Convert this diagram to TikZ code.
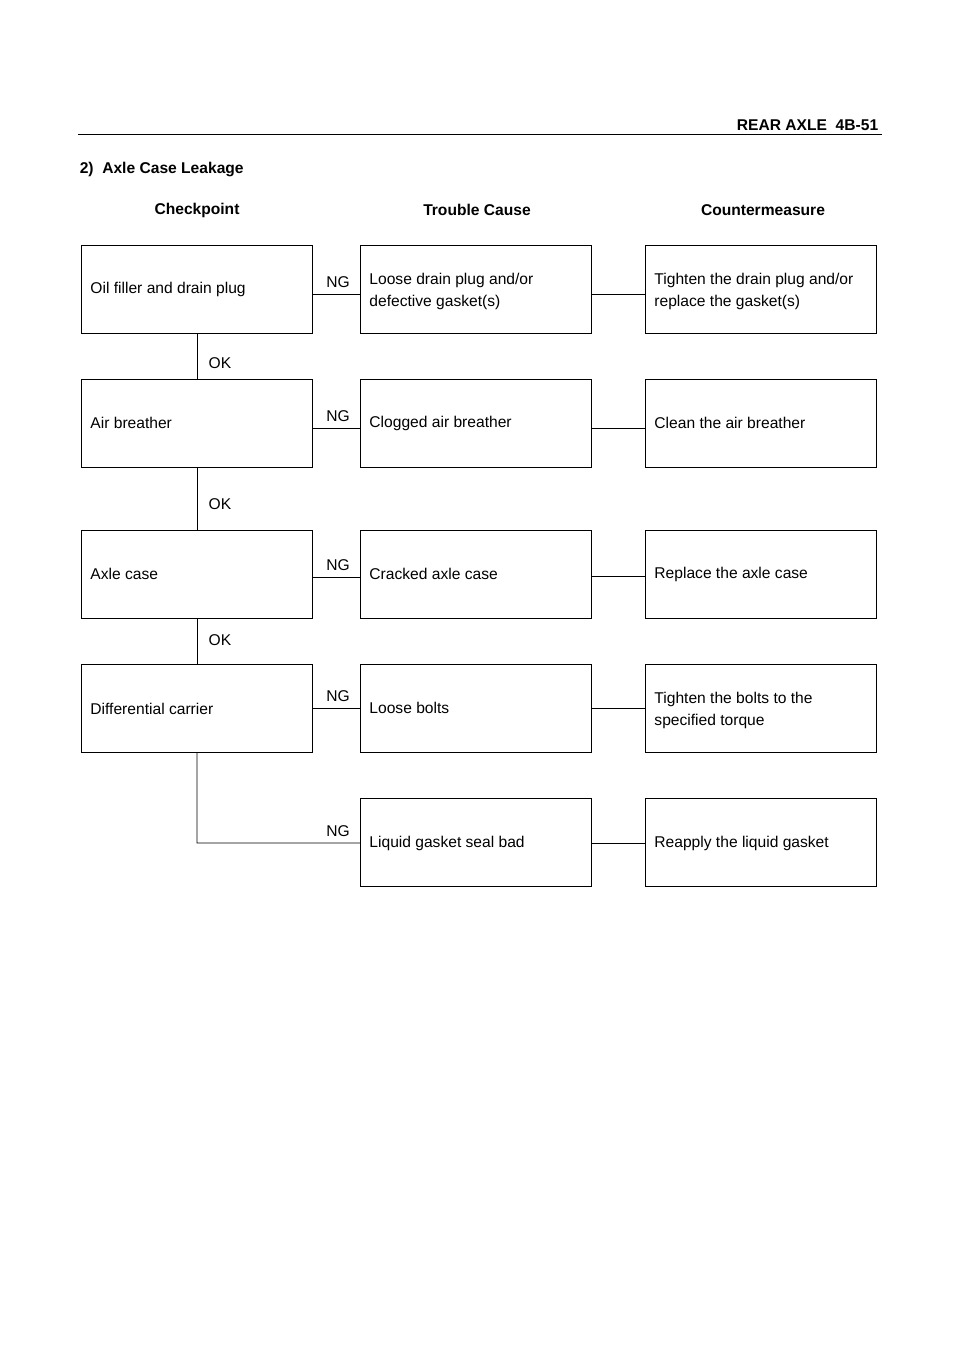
\documentclass[tikz,border=0pt]{standalone}
\usepackage{fontspec}
\setmainfont{Liberation Sans}
\begin{document}
\begin{tikzpicture}[x=1pt,y=-1pt,line width=0.9pt,
  bx/.style={draw,minimum width=231pt,minimum height=88pt,anchor=north west,inner sep=0},
  tx/.style={anchor=west,align=left,inner sep=0,font=\fontsize{15.6}{22}\selectfont},
  lb/.style={font=\fontsize{15.6}{18}\selectfont},
  hd/.style={font=\bfseries\fontsize{15.6}{18}\selectfont}]
\useasboundingbox (0,0) rectangle (960,1358);
\draw (78,134) -- (882,134);
\node[hd,anchor=east] (pg) at (882,125) {REAR AXLE\ \ 4B-51};
\node[hd,anchor=west] (ti) at (76,169) {2)\ \ Axle Case Leakage};
\node[hd] (h1) at (197,210) {Checkpoint};
\node[hd] (h2) at (477,210) {Trouble Cause};
\node[hd] (h3) at (763,210) {Countermeasure};
% boxes
\foreach \n/\y in {1/245,2/379,3/530,4/664}{
  \node[bx] (a\n) at (81,\y) {};}
\foreach \n/\y in {1/245,2/379,3/530,4/664,5/798}{
  \node[bx] (b\n) at (360,\y) {};
  \node[bx] (c\n) at (645,\y) {};}
% texts
\node[tx] (ta1) at (90,289) {Oil filler and drain plug};
\node[tx] (ta2) at (90,423) {Air breather};
\node[tx] (ta3) at (90,574) {Axle case};
\node[tx] (ta4) at (90,709) {Differential carrier};
\node[tx] (tb1) at (369,291) {Loose drain plug and/or\\defective gasket(s)};
\node[tx] (tb2) at (369,423) {Clogged air breather};
\node[tx] (tb3) at (369,574) {Cracked axle case};
\node[tx] (tb4) at (369,708) {Loose bolts};
\node[tx] (tb5) at (369,843) {Liquid gasket seal bad};
\node[tx] (tc1) at (654,291) {Tighten the drain plug and/or\\replace the gasket(s)};
\node[tx] (tc2) at (654,423) {Clean the air breather};
\node[tx] (tc3) at (654,574) {Replace the axle case};
\node[tx] (tc4) at (654,710) {Tighten the bolts to the\\specified torque};
\node[tx] (tc5) at (654,843) {Reapply the liquid gasket};
% NG connectors
\foreach \n/\y in {1/294,2/428,3/577,4/708}{
  \draw (312,\y) -- (360,\y);
  \node[lb] (ng\n) at (338,\y-12) {NG};}
\foreach \n/\y in {1/294,2/428,3/576,4/708,5/843}{
  \draw (591,\y) -- (645,\y);}
% OK connectors
\draw (a1.south) -- (a2.north); \node[lb] (ok1) at (220,363) {OK};
\draw (a2.south) -- (a3.north); \node[lb] (ok2) at (220,504) {OK};
\draw (a3.south) -- (a4.north); \node[lb] (ok3) at (220,640) {OK};
\coordinate (k) at (197,843);
\draw (a4.south) -- (k) -- (b5.west|-k);
\node[lb] (ng5) at (338,831) {NG};
\end{tikzpicture}
\end{document}
